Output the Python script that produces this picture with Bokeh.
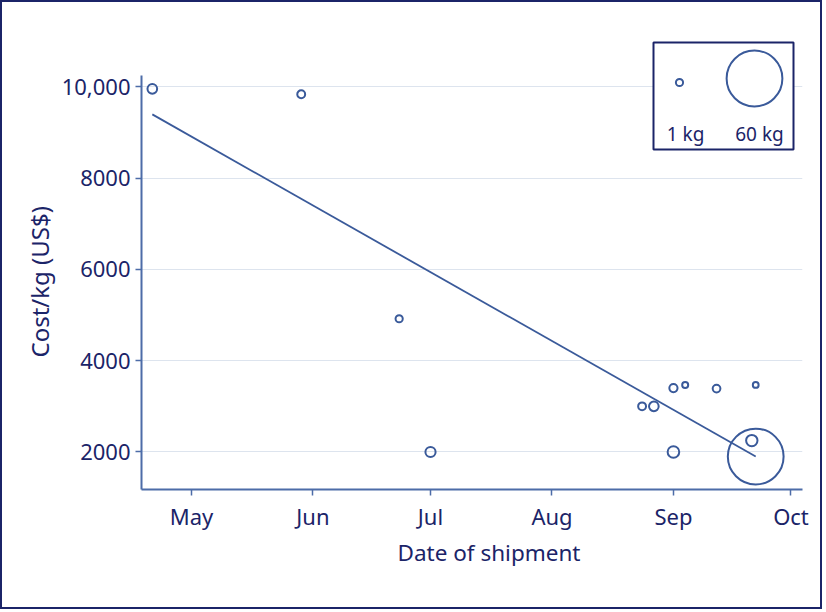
import pandas as pd
import numpy as np
from bokeh.plotting import figure
from bokeh.models import Range1d, FixedTicker, DatetimeTickFormatter, Title
from bokeh.embed import file_html
from bokeh.resources import INLINE
from bokeh.core.properties import value

# ---------------- data ----------------
ship_dates = ["2019-04-21", "2019-05-29", "2019-06-23", "2019-07-01",
              "2019-08-24", "2019-08-27", "2019-09-01", "2019-09-04",
              "2019-09-12", "2019-09-22", "2019-09-01", "2019-09-21",
              "2019-09-22"]
cost_per_kg = [9960, 9840, 4920, 2000, 3000, 3000, 3400, 3470, 3390, 3470,
               2000, 2250, 1900]
weight_kg = [1.8, 1.2, 1.0, 2.0, 1.2, 1.8, 1.3, 0.7, 1.15, 0.65, 2.6, 2.5, 60]

fit_dates = ["2019-04-21", "2019-09-22"]
fit_cost = [9400, 1900]

month_ticks = ["2019-05-01", "2019-06-01", "2019-07-01", "2019-08-01",
               "2019-09-01", "2019-10-01"]
y_ticks = [2000, 4000, 6000, 8000, 10000]
y_tick_labels = ["2000", "4000", "6000", "8000", "10,000"]

legend_weights = [1, 60]
legend_labels = ["1 kg", "60 kg"]

# ---------------- style ----------------
NAVY = "#1b2468"
PT = "#3a5a9a"
AXIS = "#4d6ca8"
GRID = "#dde4ee"
FONT = "Noto Sans"

def msize(w):
    return 7.2 * np.sqrt(np.asarray(w, dtype=float))

def ms(d):
    return pd.Timestamp(d).value / 1e6

x0 = ms("2019-05-01") - 12.76 * 86400000
x1 = ms("2019-10-01") + 2.94 * 86400000
y0, y1 = 1178, 11019

# picture-pixel helpers for layout (frame: left 141, top 40, 661 x 449)
FL, FT, FW, FH = 141, 40, 661, 449
def X(px):
    return x0 + (px - FL) / FW * (x1 - x0)
def Y(py):
    return y1 - (py - FT) / FH * (y1 - y0)

W, H = 822, 609
p = figure(width=W, height=H, x_axis_type="datetime",
           x_range=Range1d(x0, x1), y_range=Range1d(y0, y1),
           output_backend="svg", toolbar_location=None,
           min_border_left=FL - 2, min_border_right=W - (FL - 2) - FW,
           min_border_top=FT - 2, min_border_bottom=H - (FT - 2) - FH)
p.outline_line_color = None
p.background_fill_color = "white"
p.border_fill_color = "white"
p.styles = {"border": f"2px solid {NAVY}"}

# axes
p.xaxis.ticker = FixedTicker(ticks=[ms(d) for d in month_ticks])
p.xaxis.formatter = DatetimeTickFormatter(months="%b", days="%b", years="%b")
p.yaxis.ticker = FixedTicker(ticks=y_ticks)
p.yaxis.major_label_overrides = {t: l for t, l in zip(y_ticks, y_tick_labels)}
p.yaxis.bounds = (y0, Y(75))
for ax in (p.xaxis, p.yaxis):
    ax.axis_line_color = AXIS
    ax.axis_line_width = 2
    ax.major_tick_line_color = AXIS
    ax.major_tick_line_width = 1.5
    ax.major_tick_out = 6
    ax.major_tick_in = 0
    ax.minor_tick_line_color = None
    ax.major_label_text_font = FONT
    ax.major_label_text_font_size = "22px"
    ax.major_label_text_color = NAVY
p.xaxis.major_label_standoff = 5
p.yaxis.major_label_standoff = 5
p.xgrid.grid_line_color = None
p.ygrid.grid_line_color = GRID
p.ygrid.grid_line_width = 1

# fit line
p.line(x=[ms(d) for d in fit_dates], y=fit_cost, line_color=PT, line_width=1.8)

# points
p.scatter(x=[ms(d) for d in ship_dates], y=cost_per_kg, size=msize(weight_kg),
          marker="circle", fill_color=None, line_color=PT, line_width=2)

# legend box
p.quad(left=[X(653)], right=[X(793)], top=[Y(42)], bottom=[Y(149)],
       fill_color="white", line_color=NAVY, line_width=2)
p.scatter(x=[X(679), X(754)], y=[Y(82), Y(78)], size=msize(legend_weights),
          marker="circle", fill_color=None, line_color=PT, line_width=2)
p.text(x=[X(685), X(759)], y=[Y(133), Y(133)], text=legend_labels,
       text_font=value(FONT), text_font_size="19px", text_color=NAVY,
       text_align="center", text_baseline="middle")

# axis titles
xt = Title(text="Date of shipment", align="left", offset=256,
           text_font=FONT, text_font_size="22.5px", text_color=NAVY,
           text_font_style="normal", standoff=2)
p.add_layout(xt, "below")
yt = Title(text="Cost/kg (US$)", align="left", offset=132,
           text_font=FONT, text_font_size="24px", text_color=NAVY,
           text_font_style="normal", standoff=5)
p.add_layout(yt, "left")

open("out.html", "w").write(file_html(p, INLINE))
